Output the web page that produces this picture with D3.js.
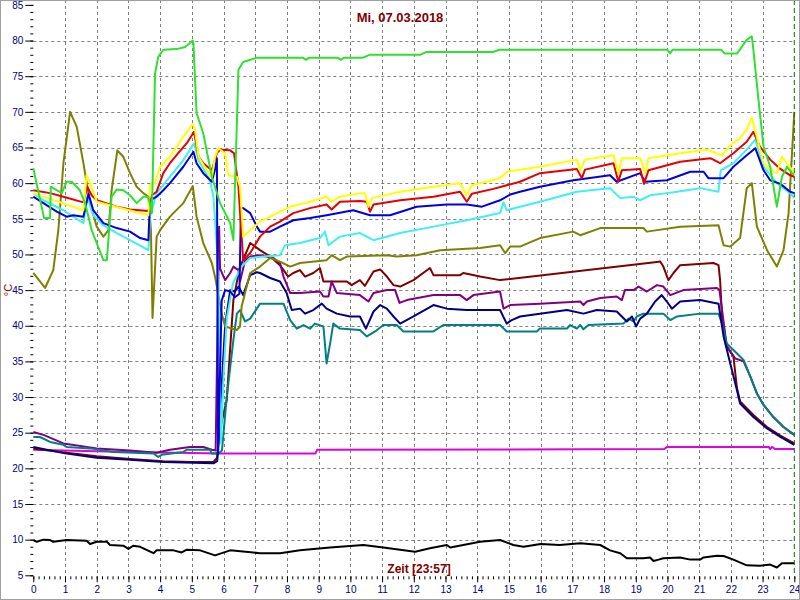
<!DOCTYPE html>
<html><head><meta charset="utf-8">
<script src="https://cdn.jsdelivr.net/npm/d3@7"></script>
<style>body{margin:0;background:#fff}svg{display:block}text{font-family:Arial,"Liberation Sans",sans-serif}</style>
</head><body><svg id="c" width="800" height="600"></svg>
<script>
const title = "Mi, 07.03.2018";
const xTitle = "Zeit [23:57]";
const yTitle = "°C";
const yTicks = [5,10,15,20,25,30,35,40,45,50,55,60,65,70,75,80,85];
const xTicks = d3.range(0,25);

const lime = [[0,62.1],[0.34,55.1],[0.53,55.1],[0.55,59.5],[0.90,58.6],[1.05,60.2],[1.21,60.2],[1.47,59.0],[1.63,57.2],[1.74,55.3],[1.84,53.4],[2.00,51.6],[2.21,49.2],[2.32,49.2],[2.47,58.1],[2.63,59.1],[2.84,59.0],[3.05,58.3],[3.26,57.2],[3.47,58.1],[3.63,58.1],[3.74,55.8],[3.84,75.4],[3.94,77.7],[4.10,78.7],[4.52,78.8],[4.79,79.1],[5.03,80.0],[5.05,79.6],[5.15,69.8],[5.36,67.0],[5.63,60.9],[5.89,57.2],[6.21,54.4],[6.31,52.0],[6.47,75.9],[6.62,77.0],[7.05,77.6],[8.5,77.6],[8.6,77.3],[8.7,77.6],[9.6,77.6],[9.7,77.3],[9.8,77.6],[10.4,77.6],[10.6,78.0],[12.2,78.0],[12.4,78.4],[14.5,78.4],[14.7,78.7],[20.0,78.7],[20.08,78.2],[20.16,78.7],[21.7,78.7],[21.8,78.2],[22.2,78.2],[22.5,80.1],[22.66,80.6],[22.70,79.1],[22.87,71.7],[23.03,65.1],[23.24,62.3],[23.45,56.7],[23.61,60.9],[23.77,62.3],[23.92,61.4],[24,61.2]];
const yellow = [[0,58.6],[1.58,56.2],[1.68,61.1],[1.79,60.0],[2.00,57.4],[3.63,55.5],[3.68,59.7],[3.84,60.0],[4.00,62.3],[4.31,63.7],[4.73,66.5],[5.03,68.3],[5.10,67.5],[5.21,63.7],[5.47,61.8],[5.63,60.7],[5.73,63.7],[5.84,64.9],[6.05,64.2],[6.15,61.1],[6.42,60.9],[6.52,59.5],[6.62,52.5],[6.84,53.4],[7.15,54.6],[7.47,55.3],[8.10,56.7],[8.73,57.4],[9.25,58.1],[9.41,57.4],[9.67,58.1],[10.30,58.6],[10.46,58.6],[10.57,56.7],[10.68,57.9],[11.57,58.8],[12.62,59.5],[13.46,60.0],[13.67,58.3],[13.83,59.7],[14.72,60.7],[14.93,61.6],[15.98,62.3],[17.14,63.3],[17.25,61.8],[17.40,63.3],[18.30,63.9],[18.45,61.4],[18.56,63.5],[19.14,63.5],[19.30,61.4],[19.40,63.5],[20.40,64.2],[21.24,64.7],[21.72,63.9],[21.98,65.3],[22.29,66.3],[22.50,67.5],[22.66,69.2],[23.03,62.8],[23.24,61.8],[23.45,61.4],[23.61,63.7],[23.77,62.8],[24,61.4]];
const red = [[0,59.0],[0.53,58.6],[0.95,58.1],[1.58,57.3],[1.70,59.5],[1.84,58.3],[2.00,57.6],[2.63,56.7],[3.05,56.3],[3.63,56.1],[3.74,58.3],[3.89,58.8],[4.10,61.4],[4.31,62.8],[4.57,64.2],[4.84,65.6],[5.07,67.2],[5.21,63.7],[5.36,62.8],[5.63,61.8],[5.79,64.2],[5.89,64.7],[6.21,64.6],[6.33,64.2],[6.47,59.5],[6.52,56.0],[6.62,49.2],[6.84,50.2],[7.15,52.5],[7.47,53.9],[7.78,54.6],[8.20,55.8],[8.73,56.5],[9.25,57.0],[9.41,56.3],[9.67,57.4],[10.30,57.5],[10.52,57.4],[10.62,56.0],[10.73,57.0],[11.57,57.6],[12.62,58.1],[13.46,58.8],[13.67,57.4],[13.83,58.5],[14.51,59.2],[15.35,60.2],[15.98,61.4],[17.14,62.0],[17.30,60.7],[17.40,61.9],[18.30,62.8],[18.45,60.2],[18.56,61.8],[19.14,62.0],[19.26,59.9],[19.40,61.8],[20.40,63.0],[21.35,63.5],[21.66,62.8],[22.08,64.2],[22.50,65.8],[22.71,67.2],[22.92,65.1],[23.24,63.3],[23.56,62.0],[23.87,61.1],[24,60.9]];
const blue = [[0,58.1],[0.32,57.2],[0.74,56.0],[1.05,55.3],[1.26,55.5],[1.58,55.3],[1.74,58.5],[1.89,56.2],[2.21,54.4],[2.63,53.7],[3.05,53.2],[3.37,52.3],[3.63,52.0],[3.68,57.6],[3.89,58.1],[4.10,59.0],[4.31,60.0],[4.73,62.3],[5.05,64.4],[5.15,62.8],[5.36,61.4],[5.63,60.2],[5.73,61.9],[5.79,63.5],[5.83,22.0],[5.94,43.5],[6.05,45.0],[6.21,44.8],[6.36,44.0],[6.50,44.5],[6.55,56.6],[6.62,56.5],[6.84,55.8],[7.05,53.9],[7.15,53.2],[7.47,53.2],[7.78,53.9],[8.20,54.8],[8.73,55.1],[9.25,55.5],[10.09,56.2],[10.62,55.5],[11.25,55.5],[12.09,56.7],[13.04,57.0],[13.67,57.0],[14.15,56.7],[14.72,57.6],[15.04,58.4],[15.35,58.8],[15.98,59.5],[17.03,60.4],[18.19,61.1],[18.40,60.2],[19.14,61.4],[19.30,60.2],[19.98,60.4],[20.72,61.6],[21.14,61.6],[21.29,60.7],[21.77,60.7],[22.08,62.3],[22.50,63.9],[22.77,64.9],[23.03,61.8],[23.24,60.4],[23.56,59.9],[23.87,58.8],[24,58.6]];
const cyan = [[0,58.6],[0.32,57.6],[0.95,56.2],[1.58,54.4],[1.70,58.1],[1.89,55.5],[2.21,54.1],[2.63,53.0],[3.05,52.0],[3.63,50.6],[3.68,55.3],[3.89,58.6],[4.31,60.9],[4.73,63.2],[5.07,65.6],[5.21,63.2],[5.57,60.4],[5.68,58.1],[5.79,51.1],[5.84,44.8],[5.92,23.5],[6.00,33.0],[6.10,41.0],[6.30,46.0],[6.57,48.3],[6.84,49.5],[7.26,49.7],[7.78,49.9],[7.94,51.3],[8.41,51.6],[9.04,52.3],[9.20,53.2],[9.31,51.3],[9.67,52.5],[10.30,53.0],[10.73,52.0],[11.57,53.0],[12.62,53.9],[13.67,54.8],[14.72,55.8],[14.83,57.3],[14.93,56.2],[15.35,56.7],[15.98,57.4],[17.14,58.8],[18.19,59.3],[18.51,57.9],[18.93,58.1],[19.14,57.6],[19.45,58.3],[19.98,58.6],[20.30,58.8],[21.03,59.3],[21.61,58.8],[21.68,61.8],[22.08,62.8],[22.50,64.7],[22.77,66.1],[23.03,62.3],[23.45,60.0],[23.87,58.6],[24,57.9]];
const olive = [[0,47.4],[0.37,45.3],[0.63,47.8],[0.79,53.4],[0.95,62.8],[1.16,70.0],[1.37,67.9],[1.58,62.8],[1.79,57.2],[2.00,53.9],[2.21,52.5],[2.37,53.4],[2.47,59.0],[2.65,64.6],[2.84,63.7],[3.05,61.4],[3.26,59.5],[3.47,58.6],[3.63,58.1],[3.71,53.4],[3.76,41.1],[3.89,52.5],[4.00,53.4],[4.31,55.3],[4.73,57.2],[5.03,59.6],[5.15,55.3],[5.36,51.6],[5.63,48.8],[5.73,46.9],[5.79,45.5],[5.94,41.7],[6.05,39.9],[6.42,39.4],[6.52,39.9],[6.57,42.7],[6.73,45.5],[6.84,47.4],[7.15,48.3],[7.47,49.5],[7.78,49.0],[8.10,48.3],[8.41,48.8],[9.25,49.2],[9.41,49.9],[9.67,49.2],[9.89,49.7],[11.15,49.9],[11.46,49.7],[12.09,49.9],[12.83,50.6],[14.09,50.9],[14.72,51.3],[14.88,50.2],[15.04,51.1],[15.35,51.1],[15.98,52.3],[17.03,53.2],[17.25,52.7],[17.88,53.7],[19.24,53.7],[19.35,53.2],[20.40,53.9],[21.61,54.1],[21.77,51.3],[21.98,51.1],[22.29,52.3],[22.50,59.3],[22.66,60.0],[22.82,53.9],[23.14,50.6],[23.45,48.3],[23.66,50.6],[23.82,55.8],[23.97,67.5],[24,70.0]];
const maroon = [[0,22.8],[1.05,22.2],[2.0,21.7],[3.05,21.3],[4.1,21.0],[5.0,20.9],[5.68,20.9],[5.80,21.5],[5.86,25.0],[6.10,29.6],[6.31,43.6],[6.50,48.0],[6.84,51.6],[7.15,50.6],[7.47,49.7],[7.78,48.5],[8.04,46.9],[8.20,47.4],[8.41,47.8],[8.57,46.9],[8.83,47.4],[9.04,48.1],[9.15,46.2],[9.89,46.2],[10.04,45.7],[10.30,46.4],[10.46,45.6],[10.73,47.6],[10.94,47.9],[11.15,46.9],[11.36,45.7],[11.57,45.5],[11.99,46.4],[12.51,48.1],[12.62,47.1],[13.46,47.1],[13.56,47.4],[14.09,46.9],[14.72,46.4],[19.60,48.9],[19.77,49.0],[19.87,48.3],[20.03,46.4],[20.19,47.4],[20.40,48.5],[21.45,48.8],[21.61,48.5],[21.66,46.4],[21.72,41.3],[21.87,37.1],[22.08,35.7],[22.19,31.3],[22.29,29.4],[22.71,27.5],[23.14,25.8],[23.56,24.6],[24,23.5]];
const purple = [[0,25.1],[0.32,24.7],[0.95,23.5],[2.0,22.8],[3.05,22.5],[3.89,22.2],[4.31,22.6],[4.94,23.0],[5.36,23.0],[5.63,22.6],[5.75,22.5],[5.86,53.9],[5.89,48.0],[6.05,46.4],[6.21,47.4],[6.31,48.3],[6.47,47.8],[6.52,46.2],[6.68,49.2],[6.84,49.7],[7.15,49.9],[7.57,49.5],[7.78,48.8],[7.89,46.9],[8.10,44.6],[8.41,44.6],[9.04,44.8],[9.15,44.1],[9.31,44.1],[9.41,46.2],[9.57,44.6],[10.30,44.3],[10.57,43.4],[10.73,44.6],[11.15,45.0],[11.41,45.0],[11.55,43.2],[11.78,43.6],[12.62,44.3],[13.46,44.3],[13.67,43.6],[13.88,44.3],[14.72,44.8],[14.83,42.4],[15.04,42.9],[15.98,43.1],[17.25,43.4],[17.35,42.9],[17.46,43.4],[17.88,43.9],[18.40,44.1],[18.56,43.6],[18.66,45.0],[18.93,45.0],[19.09,45.5],[19.35,44.8],[19.67,45.7],[19.87,45.5],[20.09,44.3],[20.50,45.0],[21.56,45.3],[21.64,45.0],[21.87,37.1],[22.14,35.4],[22.40,35.0],[22.61,32.9],[22.82,30.5],[23.03,28.9],[23.34,27.2],[23.66,25.8],[24,24.7]];
const navy = [[0,23.0],[1.0,22.1],[2.0,21.5],[3.05,21.2],[4.1,20.9],[5.68,20.7],[5.80,21.0],[5.92,30.0],[6.05,40.0],[6.21,45.0],[6.36,44.8],[6.47,45.5],[6.62,44.3],[6.84,47.1],[7.05,47.5],[7.15,47.4],[7.47,46.7],[7.78,46.2],[7.99,44.6],[8.15,42.2],[8.41,42.4],[8.57,41.7],[8.83,42.2],[9.10,43.1],[9.25,42.4],[9.57,41.7],[9.99,41.3],[10.30,41.3],[10.49,39.6],[10.73,42.0],[10.94,42.9],[11.15,42.4],[11.36,41.3],[11.57,40.3],[11.99,41.3],[12.62,42.9],[13.04,42.4],[13.67,42.2],[14.72,42.2],[14.93,40.3],[15.09,40.8],[15.35,41.3],[16.83,42.2],[17.35,41.7],[17.77,42.2],[18.40,42.0],[18.72,40.6],[18.88,41.3],[19.01,39.9],[19.14,41.0],[19.35,41.7],[19.61,43.4],[19.82,44.3],[19.98,43.4],[20.14,42.4],[20.40,43.4],[21.03,43.6],[21.61,43.1],[21.77,38.5],[21.98,34.7],[22.19,31.0],[22.29,29.1],[22.71,27.2],[23.14,25.6],[23.56,24.4],[24,23.3]];
const teal = [[0,24.4],[0.21,24.4],[0.53,23.7],[0.95,23.3],[1.05,23.0],[1.79,22.8],[2.53,22.3],[3.79,22.1],[3.94,21.6],[4.05,21.9],[4.73,22.3],[4.84,22.6],[5.57,22.6],[5.63,22.1],[5.85,22.1],[5.95,22.5],[6.10,30.0],[6.31,38.0],[6.42,41.7],[6.52,42.2],[6.68,40.6],[6.84,41.0],[7.15,43.1],[7.89,43.1],[8.10,40.8],[8.31,39.6],[8.52,40.1],[8.73,39.6],[8.88,40.3],[9.15,39.9],[9.25,34.7],[9.36,37.5],[9.46,40.3],[9.67,39.6],[10.30,39.4],[10.52,38.5],[10.78,39.2],[11.04,40.1],[11.46,40.1],[11.67,39.2],[12.62,39.2],[12.93,40.1],[14.72,40.1],[14.93,39.2],[15.88,39.2],[15.98,39.6],[16.83,39.6],[16.93,40.1],[17.14,39.6],[17.25,40.1],[17.35,39.5],[17.51,40.1],[18.61,40.3],[18.77,41.0],[18.93,40.6],[19.03,41.3],[19.24,41.7],[19.87,41.7],[20.09,40.8],[20.30,41.3],[21.03,41.7],[21.61,41.7],[21.72,40.3],[21.87,37.5],[22.08,36.6],[22.40,35.2],[22.61,32.9],[22.82,30.5],[23.03,28.9],[23.34,27.2],[23.66,25.8],[24,24.7]];
const magenta = [[0,22.6],[3.0,22.3],[5.9,22.1],[8.9,22.1],[8.95,22.6],[19.9,22.7],[19.98,23.0],[23.19,23.0],[23.24,22.7],[23.30,23.0],[23.40,22.7],[24,22.7]];
const black = [[0,9.95],[0.11,9.7],[0.32,10.0],[0.53,9.95],[0.63,9.7],[1.05,9.95],[1.68,9.85],[1.79,9.4],[2.0,9.7],[2.32,9.7],[2.42,9.25],[2.84,9.15],[3.0,8.7],[3.15,9.15],[3.37,9.0],[3.79,8.1],[3.89,8.5],[4.42,8.5],[4.68,8.2],[4.84,8.6],[5.26,8.5],[5.73,7.8],[6.21,8.5],[7.15,8.1],[7.78,8.1],[8.41,8.5],[9.36,8.9],[9.99,9.1],[10.41,9.25],[11.04,8.9],[12.04,8.3],[12.51,8.8],[13.04,9.25],[13.15,8.9],[13.56,9.25],[14.09,9.7],[14.72,9.95],[15.14,9.25],[15.46,9.0],[16.0,9.4],[16.6,9.25],[17.25,9.5],[17.88,9.25],[18.19,8.5],[18.51,8.1],[18.72,7.4],[19.24,7.4],[19.45,7.5],[19.56,7.0],[19.72,7.2],[19.87,7.4],[20.40,7.5],[20.72,7.2],[21.03,7.2],[21.14,7.5],[21.56,7.75],[21.77,7.7],[22.08,7.2],[22.50,6.4],[22.92,6.35],[23.24,6.5],[23.45,6.1],[23.61,6.7],[24,6.7]];

const seriesNames = ["black","magenta","maroon","purple","teal","navy","olive","cyan","blue","red","yellow","lime"];
const seriesData = [black,magenta,maroon,purple,teal,navy,olive,cyan,blue,red,yellow,lime];
const seriesColors = ["#000000","#e000e0","#800000","#800080","#008080","#000080","#808000","#40f0f0","#0000e0","#e80000","#ffff00","#30e030"];

const svg = d3.select("#c");
const W = 800, H = 600;
const x = d3.scaleLinear().domain([0,24]).range([33.3,794.3]);
const y = d3.scaleLinear().domain([5,85]).range([575.3,4.9]);

svg.append("rect").attr("width",W).attr("height",H).attr("fill","#fff");

// grid
const g = svg.append("g");
g.selectAll("line.v").data(d3.range(1,24)).join("line")
  .attr("x1",d=>Math.round(x(d))+0.5).attr("x2",d=>Math.round(x(d))+0.5)
  .attr("y1",0).attr("y2",y(5))
  .attr("stroke","#808080").attr("stroke-dasharray","3,3");
g.selectAll("line.h").data(d3.range(10,85,5)).join("line")
  .attr("x1",x(0)).attr("x2",x(24))
  .attr("y1",d=>Math.round(y(d))+0.5).attr("y2",d=>Math.round(y(d))+0.5)
  .attr("stroke","#808080").attr("stroke-dasharray","3,3");

// y axis
const yAxis = d3.axisLeft(y).tickValues(yTicks).tickSize(8).tickPadding(2);
const ya = svg.append("g").attr("transform",`translate(${x(0)},0)`).call(yAxis);
ya.select(".domain").remove();
ya.selectAll("text").attr("fill","#000080").style("font-size","10px").style("font-family","Arial, 'Liberation Sans', sans-serif");
ya.selectAll(".tick line").attr("stroke","#000");
const yMinor = d3.axisLeft(y).tickValues(d3.range(5,86,1)).tickSize(3).tickFormat("");
const ym = svg.append("g").attr("transform",`translate(${x(0)},0)`).call(yMinor);
ym.select(".domain").remove();

// x axis
const xAxis = d3.axisBottom(x).tickValues(xTicks).tickSize(6).tickPadding(4).tickFormat(d3.format("d"));
const xa = svg.append("g").attr("transform",`translate(0,${y(5)+1})`).call(xAxis);
xa.select(".domain").remove();
xa.selectAll("text").attr("fill","#000080").style("font-size","10px").style("font-family","Arial, 'Liberation Sans', sans-serif");
xa.selectAll(".tick line").attr("stroke","#000");
const xMinor = d3.axisBottom(x).tickValues(d3.range(0,24.01,1/6)).tickSize(3).tickFormat("");
const xm = svg.append("g").attr("transform",`translate(0,${y(5)+1})`).call(xMinor);
xm.select(".domain").remove();

// series
const line = d3.line().x(d=>x(d[0])).y(d=>y(d[1]));
const sg = svg.append("g");
seriesData.forEach((s,i)=>{
  sg.append("path").datum(s).attr("d",line)
    .attr("fill","none").attr("stroke",seriesColors[i]).attr("stroke-width",2)
    .attr("stroke-linejoin","round").attr("class","s-"+seriesNames[i]);
});

// current-time marker
svg.append("line").attr("x1",x(24)).attr("x2",x(24)).attr("y1",0).attr("y2",y(5))
  .attr("stroke","#007000").attr("stroke-dasharray","5,3");

// titles
svg.append("text").attr("x",400).attr("y",22).attr("text-anchor","middle")
  .attr("fill","#800000").style("font-weight","bold").style("font-size","13px").text(title);
svg.append("text").attr("x",419).attr("y",573).attr("text-anchor","middle")
  .attr("fill","#800000").style("font-weight","bold").style("font-size","12px").text(xTitle);
svg.append("text").attr("transform","translate(12,290) rotate(-90)").attr("text-anchor","middle")
  .attr("fill","#800000").style("font-size","11px").text(yTitle);

// frame
svg.append("rect").attr("x",0.5).attr("y",0.5).attr("width",W-1).attr("height",H-1)
  .attr("fill","none").attr("stroke","#a0a0a0");
</script></body></html>
